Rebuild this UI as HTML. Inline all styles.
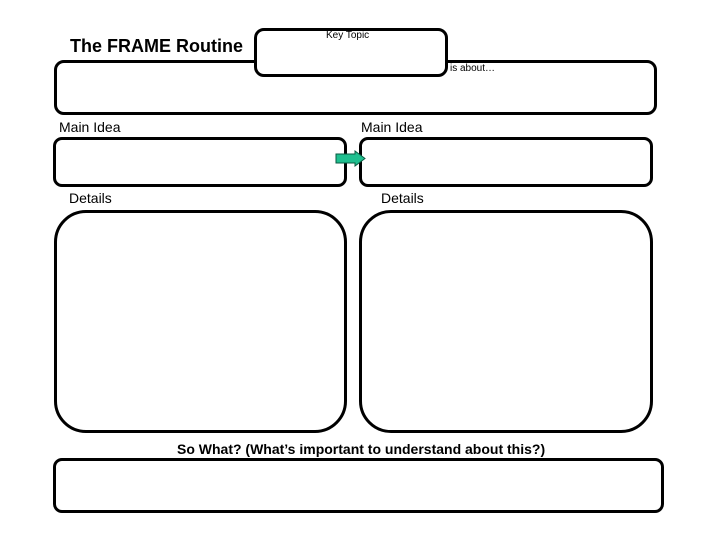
<!DOCTYPE html>
<html><head><style>
body{margin:0;width:720px;height:540px;background:#fff;position:relative;overflow:hidden;font-family:"Liberation Sans",sans-serif;}
.b{position:absolute;border:3px solid #000;box-sizing:border-box;background:#fff;}
.t{position:absolute;white-space:nowrap;color:#000;}
</style></head><body>
<div class="t" style="left:70px;top:36px;font-size:18px;font-weight:bold;">The FRAME Routine</div>
<div class="b" style="left:54px;top:60px;width:603px;height:55px;border-radius:10px;"></div>
<div class="b" style="left:254px;top:28px;width:194px;height:49px;border-radius:10px;"></div>
<div class="t" style="left:326px;top:30px;font-size:10px;">Key Topic</div>
<div class="t" style="left:450px;top:63px;font-size:10px;">is about…</div>
<div class="t" style="left:59px;top:119px;font-size:14px;">Main Idea</div>
<div class="t" style="left:361px;top:119px;font-size:14px;">Main Idea</div>
<div class="b" style="left:53px;top:137px;width:294px;height:50px;border-radius:9px;"></div>
<div class="b" style="left:359px;top:137px;width:294px;height:50px;border-radius:9px;"></div>
<svg style="position:absolute;left:334px;top:150px" width="34" height="18"><polygon points="2,4 21,4 21,1 31,8.5 21,16 21,13 2,13" fill="#1fbf8f" stroke="#0a5a40" stroke-width="1"/></svg>
<div class="t" style="left:69px;top:190px;font-size:14px;">Details</div>
<div class="t" style="left:381px;top:190px;font-size:14px;">Details</div>
<div class="b" style="left:54px;top:210px;width:293px;height:223px;border-radius:32px;"></div>
<div class="b" style="left:359px;top:210px;width:294px;height:223px;border-radius:32px;"></div>
<div class="t" style="left:177px;top:441px;font-size:14px;font-weight:bold;">So What? (What’s important to understand about this?)</div>
<div class="b" style="left:53px;top:458px;width:611px;height:55px;border-radius:9px;"></div>
</body></html>
